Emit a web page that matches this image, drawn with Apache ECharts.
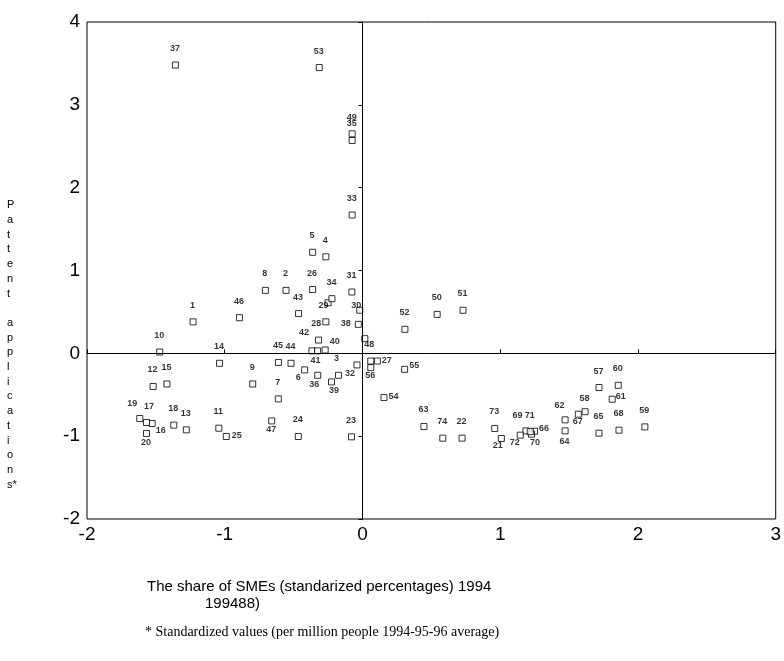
<!DOCTYPE html>
<html>
<head>
<meta charset="utf-8">
<script src="https://cdn.jsdelivr.net/npm/echarts@6/dist/echarts.min.js"></script>
<style>
  html, body { margin: 0; padding: 0; background: #fff; }
  #chart { width: 784px; height: 661px; }
</style>
</head>
<body>
<div id="chart"></div>
<script>
// point labels (region numbers), null = marker with no readable label
const regionIds = [
  1, 2, 3, 4, 5, 6, 7, 8, 9, 10,
  11, 12, 13, 14, 15, 16, 17, 18, 19, 20,
  21, 22, 23, 24, 25, 26, 27, 28, 29, 30,
  31, 32, 33, 34, 35, 36, 37, 38, 39, 40,
  41, 42, 43, 44, 45, 46, 47, 48, 49, 50,
  51, 52, 53, 54, 55, 56, 57, 58, 59, 60,
  61, 62, 63, 64, 65, 66, 67, 68, 69, 70,
  71, 72, 73, 74, null, null
];

// share of SMEs (standardized)
const smeShare = [
  -1.23, -0.555, -0.04, -0.266, -0.362, -0.42, -0.611, -0.705, -0.797, -1.472,
  -1.043, -1.52, -1.279, -1.038, -1.42, -1.527, -1.568, -1.37, -1.617, -1.568,
  1.008, 0.723, -0.08, -0.466, -0.989, -0.362, 0.108, -0.266, -0.25, -0.02,
  -0.077, -0.174, -0.075, -0.222, -0.075, -0.325, -1.358, -0.03, -0.225, -0.271,
  -0.367, -0.319, -0.464, -0.519, -0.61, -0.893, -0.659, 0.017, -0.075, 0.542,
  0.73, 0.308, -0.314, 0.156, 0.306, 0.06, 1.717, 1.616, 2.05, 1.857,
  1.813, 1.471, 0.446, 1.471, 1.717, 1.249, 1.567, 1.862, 1.187, 1.227,
  1.218, 1.145, 0.96, 0.583, -0.326, 0.06
];

// patent applications (standardized, per million people)
const patents = [
  0.38, 0.76, -0.14, 1.165, 1.22, -0.2, -0.55, 0.76, -0.37, 0.016,
  -0.904, -0.4, -0.924, -0.12, -0.37, -0.847, -0.835, -0.867, -0.787, -0.967,
  -1.028, -1.024, -1.008, -1.004, -1.004, 0.77, -0.093, 0.38, 0.61, 0.52,
  0.74, -0.265, 1.67, 0.66, 2.57, -0.265, 3.48, 0.35, -0.345, 0.04,
  0.03, 0.16, 0.48, -0.12, -0.11, 0.43, -0.816, 0.177, 2.65, 0.47,
  0.52, 0.29, 3.45, -0.534, -0.193, -0.173, -0.413, -0.705, -0.888, -0.386,
  -0.554, -0.803, -0.883, -0.936, -0.964, -0.94, -0.735, -0.928, -0.936, -0.976,
  -0.946, -0.988, -0.907, -1.024, 0.03, -0.093
];

const xTitle1 = 'The share of SMEs (standarized percentages) 1994';
const xTitle2 = '199488)';
const yTitle = 'Pattent applications*';
const footnote = '* Standardized values (per million people 1994-95-96 average)';

// where a label sits relative to its marker (px), default is above
const labelShift = {
  3: [-20, -6], 6: [-6, 8], 16: [9, 8], 17: [3, -15], 19: [-7, -15], 20: [0, 10],
  21: [-3, 8], 25: [11, 0], 27: [10, 0], 28: [-9, 2], 29: [-4, 3], 30: [-3, -4],
  32: [12, -1], 36: [-3, 10], 38: [-12, 0], 39: [3, 9], 40: [10, -8], 41: [4, 10],
  42: [-14, -7], 47: [0, 9], 48: [5, 6], 54: [10, -1], 55: [10, -3], 56: [0, 8],
  58: [0, -13], 61: [9, -2], 62: [-5, -14], 64: [0, 11], 66: [10, -2], 67: [0, 8],
  69: [-8, -15], 70: [4, 9], 72: [-5, 8]
};

const points = regionIds.map((id, i) => {
  const s = labelShift[id] || [0, -16];
  return {
    name: id === null ? '' : String(id),
    value: [smeShare[i], patents[i]],
    label: { position: [3 + s[0], 3 + s[1]] }
  };
});

// 'Pattent' / blank line / 'applications*', one letter per line
const yTitleLines = yTitle.replace('s*', '\u0000').split('').map((c) => (c === '\u0000' ? 's*' : c));

const chart = echarts.init(document.getElementById('chart'));

const tickFont = {
  color: '#000',
  fontSize: 19,
  fontFamily: "'Liberation Sans Narrow', 'Liberation Sans', Arial, sans-serif"
};

chart.setOption({
  animation: false,
  backgroundColor: '#fff',
  grid: {
    left: 87,
    right: 6,
    top: 22,
    bottom: 142,
    show: true,
    borderColor: '#000',
    borderWidth: 1
  },
  xAxis: {
    type: 'value',
    min: -2,
    max: 3,
    interval: 1,
    axisLine: { lineStyle: { color: '#000', width: 1 } },
    axisTick: { inside: true, length: 4, lineStyle: { color: '#000' } },
    splitLine: { show: false },
    axisLabel: Object.assign({ margin: 6 }, tickFont)
  },
  yAxis: {
    type: 'value',
    min: -2,
    max: 4,
    interval: 1,
    axisLine: { lineStyle: { color: '#000', width: 1 } },
    axisTick: { length: 4, lineStyle: { color: '#000' } },
    splitLine: { show: false },
    axisLabel: Object.assign({ margin: 7 }, tickFont)
  },
  series: [
    {
      type: 'scatter',
      symbol: 'rect',
      symbolSize: 6,
      data: points,
      itemStyle: { color: '#fff', borderColor: '#000', borderWidth: 1 },
      label: {
        show: true,
        formatter: (p) => p.name,
        align: 'center',
        verticalAlign: 'middle',
        color: '#000',
        fontSize: 9,
        fontWeight: 'bold',
        fontFamily: "'Liberation Sans', Arial, sans-serif"
      },
      markLine: {
        silent: true,
        symbol: ['none', 'none'],
        label: { show: false },
        lineStyle: { color: '#000', width: 1, type: 'solid' },
        data: [{ yAxis: 0 }, { xAxis: 0 }]
      },
      z: 3
    }
  ],
  graphic: [
    {
      type: 'text',
      left: 7,
      top: 198,
      style: {
        text: yTitleLines.join('\n'),
        fill: '#000',
        font: "11px 'Liberation Sans', Arial, sans-serif",
        lineHeight: 14.7,
        align: 'center'
      }
    },
    {
      type: 'text',
      left: 147,
      top: 579,
      style: {
        text: xTitle1,
        fill: '#000',
        font: "15px 'Liberation Sans', Arial, sans-serif"
      }
    },
    {
      type: 'text',
      left: 205,
      top: 596,
      style: {
        text: xTitle2,
        fill: '#000',
        font: "15px 'Liberation Sans', Arial, sans-serif"
      }
    },
    {
      type: 'text',
      left: 145,
      top: 625,
      style: {
        text: footnote,
        fill: '#000',
        font: "14px 'Liberation Serif', 'Times New Roman', serif"
      }
    }
  ]
});
</script>
</body>
</html>
